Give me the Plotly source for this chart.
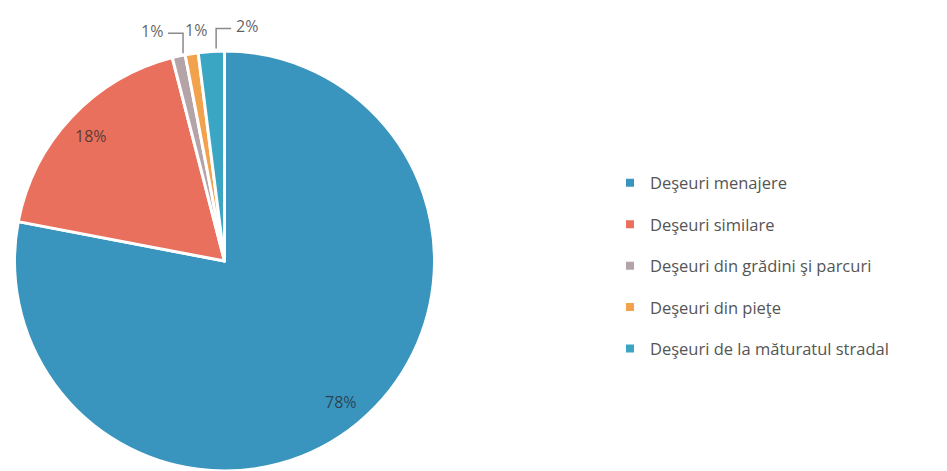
import math
import plotly.graph_objects as go

labels = ["Deşeuri menajere", "Deşeuri similare", "Deşeuri din grădini şi parcuri",
          "Deşeuri din pieţe", "Deşeuri de la măturatul stradal"]
values = [78, 18, 1, 1, 2]
colors = ["#3a95be", "#e8705c", "#b4a4a8", "#f2a24c", "#3aa6c4"]

# the page adds an 8px body margin, so the figure is slightly smaller than the window
W, H = 939, 463
dom_x = [6.5 / W, 426.5 / W]
dom_y = [0.0, (H - 43) / H]

# style: how each slice label is drawn (0 = inside, -1 = elbow left, 1 = elbow right, None = plain above)
label_style = [0, 0, -1, None, 1]

fig = go.Figure()
fig.add_trace(go.Pie(
    labels=labels, values=values, sort=False, direction="clockwise", rotation=0,
    marker=dict(colors=colors, line=dict(color="white", width=3)),
    textinfo="none", hoverinfo="label+percent", showlegend=False,
    domain=dict(x=dom_x, y=dom_y),
))

# legend proxies (one legend group per slice to control spacing)
for lab, col in zip(labels, colors):
    fig.add_trace(go.Scatter(x=[None], y=[None], mode="markers", name=lab,
                             legendgroup=lab,
                             marker=dict(symbol="square", size=8, color=col)))

# pie geometry in pixels (derived from the domain)
wpx = (dom_x[1] - dom_x[0]) * W
hpx = (dom_y[1] - dom_y[0]) * H
R = min(wpx, hpx) / 2
cx = (dom_x[0] + dom_x[1]) / 2 * W
cy = H - (dom_y[0] + dom_y[1]) / 2 * H


def to_paper(px, py):
    return px / W, 1 - py / H


total = sum(values)
cum = 0
annotations, shapes = [], []
txt_font = dict(family="Open Sans", size=16, color="rgba(35,35,35,0.72)")
for v, style in zip(values, label_style):
    mid = (cum + v / 2) / total * 2 * math.pi
    cum += v
    s, c = math.sin(mid), math.cos(mid)
    if style == 0:
        r = 0.87 * R
        x, y = to_paper(cx + r * s, cy - r * c)
        annotations.append(dict(x=x, y=y, xref="paper", yref="paper", text=f"{v}%",
                                xanchor="center", yanchor="middle",
                                showarrow=False, font=txt_font))
        continue
    ex, ey = cx + (R + 3) * s, cy - (R + 3) * c
    if style is None:
        x, y = to_paper(ex + 5, ey - 21)
        annotations.append(dict(x=x, y=y, xref="paper", yref="paper", text=f"{v}%",
                                xanchor="center", yanchor="middle",
                                showarrow=False, font=txt_font))
        continue
    ex += 5
    top = ey - 20
    end = ex + 15 * style
    p = [to_paper(ex, ey), to_paper(ex, top), to_paper(end, top)]
    shapes.append(dict(type="path", xref="paper", yref="paper",
                       path="M {} {} L {} {} L {} {}".format(*p[0], *p[1], *p[2]),
                       line=dict(color="#8a8a8a", width=1.5)))
    tx, ty = to_paper(end + 3 * style, top - 2)
    annotations.append(dict(x=tx, y=ty, xref="paper", yref="paper", text=f"{v}%",
                            showarrow=False, font=txt_font, yanchor="middle",
                            xanchor="left" if style > 0 else "right"))

fig.update_layout(
    width=W, height=H, paper_bgcolor="white", plot_bgcolor="white",
    margin=dict(l=0, r=0, t=0, b=0),
    xaxis=dict(visible=False), yaxis=dict(visible=False),
    showlegend=True,
    legend=dict(x=602 / W, y=(H - 258) / H, xanchor="left", yanchor="middle",
                tracegroupgap=17,
                font=dict(family="Open Sans", size=16.5, color="#555555")),
    annotations=annotations, shapes=shapes,
)
fig.write_html("out.html")
